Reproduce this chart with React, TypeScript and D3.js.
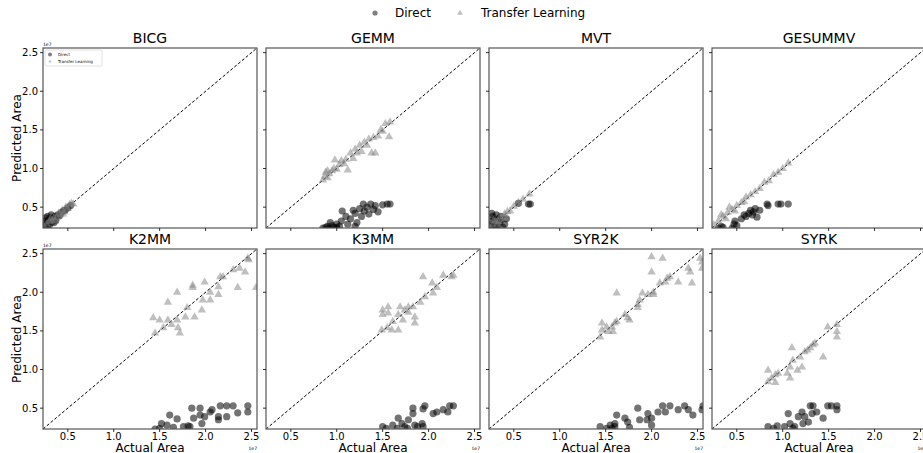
import React from "react";
import * as d3 from "d3";

type Pt = [number, number];

// values are in units of 1e7 (actual area, predicted area)
const bicgDirect: Pt[] = [
  [0.24, 0.26], [0.25, 0.32], [0.26, 0.36], [0.27, 0.29], [0.28, 0.38], [0.29, 0.33], [0.3, 0.27],
  [0.31, 0.36], [0.32, 0.4], [0.33, 0.31], [0.34, 0.35], [0.36, 0.38], [0.37, 0.33], [0.39, 0.4],
  [0.41, 0.39], [0.43, 0.43], [0.45, 0.45], [0.47, 0.46], [0.5, 0.49], [0.53, 0.52], [0.25, 0.24],
  [0.28, 0.25], [0.35, 0.3],
];
const bicgTransfer: Pt[] = [
  [0.24, 0.25], [0.27, 0.28], [0.3, 0.31], [0.33, 0.33], [0.35, 0.36], [0.38, 0.37], [0.4, 0.42],
  [0.42, 0.4], [0.44, 0.46], [0.46, 0.44], [0.48, 0.5], [0.5, 0.48], [0.52, 0.53], [0.54, 0.55],
  [0.56, 0.54], [0.36, 0.32], [0.31, 0.35], [0.45, 0.41],
];
const gemmDirect: Pt[] = [
  [0.85, 0.23], [0.88, 0.24], [0.9, 0.25], [0.92, 0.23], [0.95, 0.26], [0.97, 0.24], [1.0, 0.28],
  [0.93, 0.3], [1.03, 0.25], [1.06, 0.45], [1.05, 0.32], [1.1, 0.38], [1.12, 0.28], [1.15, 0.35],
  [1.18, 0.46], [1.2, 0.42], [1.22, 0.3], [1.25, 0.48], [1.27, 0.38], [1.29, 0.54], [1.3, 0.45],
  [1.33, 0.5], [1.35, 0.41], [1.37, 0.54], [1.4, 0.47], [1.42, 0.52], [1.45, 0.44], [1.5, 0.53],
  [1.55, 0.54], [1.58, 0.54], [1.2, 0.25], [1.0, 0.24],
];
const gemmTransfer: Pt[] = [
  [0.85, 0.85], [0.87, 0.9], [0.88, 0.95], [0.9, 0.88], [0.92, 0.93], [0.95, 0.97], [0.98, 1.11],
  [1.0, 0.99], [1.03, 1.05], [1.05, 1.1], [1.08, 1.06], [1.1, 1.12], [1.12, 0.98], [1.15, 1.2],
  [1.18, 1.13], [1.2, 1.25], [1.22, 1.2], [1.25, 1.3], [1.27, 1.22], [1.3, 1.34], [1.33, 1.3],
  [1.35, 1.38], [1.38, 1.2], [1.42, 1.2], [1.45, 1.42], [1.48, 1.5], [1.5, 1.48], [1.53, 1.58],
  [1.57, 1.41], [1.58, 1.6], [1.4, 1.4], [0.97, 1.0], [0.9, 0.97],
];
const mvtDirect: Pt[] = [
  [0.24, 0.25], [0.25, 0.32], [0.26, 0.28], [0.27, 0.38], [0.28, 0.24], [0.29, 0.34], [0.3, 0.3],
  [0.31, 0.4], [0.32, 0.26], [0.33, 0.35], [0.35, 0.31], [0.36, 0.38], [0.38, 0.24], [0.4, 0.28],
  [0.42, 0.35], [0.55, 0.55], [0.66, 0.54], [0.68, 0.54], [0.26, 0.42], [0.3, 0.24],
];
const mvtTransfer: Pt[] = [
  [0.24, 0.24], [0.27, 0.27], [0.3, 0.32], [0.33, 0.31], [0.35, 0.37], [0.38, 0.36], [0.4, 0.41],
  [0.43, 0.44], [0.46, 0.45], [0.5, 0.51], [0.55, 0.56], [0.6, 0.6], [0.67, 0.67], [0.28, 0.33],
  [0.32, 0.28],
];
const gesummvDirect: Pt[] = [
  [0.3, 0.23], [0.33, 0.25], [0.35, 0.24], [0.45, 0.23], [0.47, 0.28], [0.48, 0.32], [0.5, 0.26],
  [0.55, 0.35], [0.58, 0.4], [0.6, 0.38], [0.63, 0.42], [0.65, 0.46], [0.68, 0.44], [0.7, 0.48],
  [0.67, 0.4], [0.75, 0.46], [0.83, 0.54], [0.84, 0.52], [0.95, 0.54], [0.98, 0.54], [1.06, 0.54],
  [0.72, 0.37],
];
const gesummvTransfer: Pt[] = [
  [0.25, 0.27], [0.3, 0.32], [0.35, 0.38], [0.38, 0.35], [0.4, 0.43], [0.45, 0.47], [0.48, 0.45],
  [0.5, 0.52], [0.55, 0.56], [0.58, 0.57], [0.6, 0.63], [0.65, 0.66], [0.7, 0.7], [0.75, 0.74],
  [0.8, 0.82], [0.85, 0.84], [0.9, 0.92], [0.95, 0.95], [1.0, 1.0], [1.06, 1.07], [0.42, 0.5],
  [0.33, 0.4],
];
const k2mmDirect: Pt[] = [
  [1.45, 0.23], [1.5, 0.24], [1.58, 0.28], [1.61, 0.41], [1.69, 0.36], [1.76, 0.26], [1.85, 0.5],
  [1.87, 0.37], [1.94, 0.5], [1.94, 0.41], [1.96, 0.3], [1.99, 0.39], [2.05, 0.45], [2.07, 0.48],
  [2.14, 0.35], [2.16, 0.53], [2.23, 0.39], [2.23, 0.53], [2.3, 0.53], [2.35, 0.44], [2.46, 0.53],
  [2.46, 0.45], [1.52, 0.3], [1.65, 0.25], [1.81, 0.27], [2.14, 0.39], [1.83, 0.26],
];
const k2mmTransfer: Pt[] = [
  [2.46, 2.44], [2.43, 2.26], [2.35, 2.06], [2.55, 2.06], [2.3, 2.29], [2.16, 2.2], [1.99, 2.13],
  [1.86, 2.09], [1.69, 2.0], [1.59, 1.87], [1.86, 2.06], [2.05, 1.9], [2.14, 1.97], [1.8, 1.8],
  [1.88, 1.68], [1.78, 1.68], [1.43, 1.67], [1.5, 1.64], [1.59, 1.64], [1.69, 1.64], [1.72, 1.47],
  [1.45, 1.47], [1.54, 1.54], [1.63, 1.58], [1.7, 1.54], [1.97, 1.9], [2.19, 2.2], [2.47, 2.42],
  [2.37, 2.31], [2.14, 2.07], [2.05, 2.0], [1.96, 1.77],
];
const k3mmDirect: Pt[] = [
  [1.5, 0.26], [1.54, 0.24], [1.61, 0.28], [1.67, 0.37], [1.71, 0.3], [1.74, 0.26], [1.78, 0.35],
  [1.83, 0.5], [1.83, 0.43], [1.85, 0.28], [1.93, 0.3], [1.96, 0.53], [1.94, 0.49], [2.05, 0.43],
  [2.09, 0.45], [2.16, 0.48], [2.21, 0.45], [2.23, 0.53], [2.27, 0.53], [1.66, 0.24], [1.77, 0.24],
  [1.88, 0.26], [1.94, 0.26],
];
const k3mmTransfer: Pt[] = [
  [1.49, 1.51], [1.55, 1.54], [1.67, 1.51], [1.5, 1.77], [1.56, 1.81], [1.56, 1.73], [1.5, 1.71],
  [1.69, 1.81], [1.74, 1.77], [1.78, 1.81], [1.72, 1.64], [1.85, 1.68], [1.85, 1.6], [1.83, 1.81],
  [1.91, 1.87], [1.96, 1.94], [2.05, 1.99], [2.09, 2.06], [2.04, 2.12], [1.94, 2.2], [2.16, 2.22],
  [2.25, 2.2], [2.27, 2.22], [1.61, 1.62], [1.67, 1.71], [1.78, 1.74], [1.6, 1.51],
];
const syr2kDirect: Pt[] = [
  [1.44, 0.26], [1.51, 0.24], [1.55, 0.28], [1.6, 0.3], [1.62, 0.41], [1.6, 0.26], [1.71, 0.37],
  [1.74, 0.32], [1.85, 0.5], [1.87, 0.35], [1.95, 0.35], [1.96, 0.43], [2.0, 0.37], [2.0, 0.28],
  [2.07, 0.45], [2.12, 0.53], [2.15, 0.45], [2.2, 0.53], [2.29, 0.48], [2.36, 0.53], [2.4, 0.48],
  [2.45, 0.41], [2.55, 0.48], [2.56, 0.53], [1.57, 0.24], [1.76, 0.25],
];
const syr2kTransfer: Pt[] = [
  [1.44, 1.42], [1.46, 1.51], [1.46, 1.6], [1.51, 1.55], [1.53, 1.49], [1.57, 1.55], [1.58, 1.49],
  [1.6, 1.6], [1.62, 1.62], [1.62, 1.99], [1.71, 1.71], [1.74, 1.67], [1.76, 1.64], [1.85, 1.84],
  [1.87, 1.9], [1.9, 1.99], [1.85, 1.8], [1.96, 1.97], [2.02, 1.97], [2.02, 2.0], [2.0, 2.26],
  [2.0, 2.46], [2.12, 2.44], [2.09, 2.12], [2.15, 2.13], [2.17, 2.18], [2.2, 2.2], [2.29, 2.13],
  [2.4, 2.31], [2.42, 2.26], [2.44, 2.12], [2.53, 2.44], [2.55, 2.31], [2.55, 2.39],
];
const syrkDirect: Pt[] = [
  [0.84, 0.26], [0.9, 0.24], [0.94, 0.27], [1.08, 0.3], [1.06, 0.43], [1.13, 0.26], [1.17, 0.39],
  [1.21, 0.45], [1.22, 0.3], [1.24, 0.39], [1.3, 0.53], [1.32, 0.43], [1.33, 0.53], [1.37, 0.45],
  [1.44, 0.37], [1.49, 0.53], [1.53, 0.53], [1.59, 0.53], [1.59, 0.48], [1.28, 0.32], [1.11, 0.24],
  [1.02, 0.26],
];
const syrkTransfer: Pt[] = [
  [0.84, 0.84], [0.84, 0.99], [0.92, 0.83], [0.92, 0.93], [0.95, 0.95], [1.05, 0.95], [1.08, 0.89],
  [1.1, 1.28], [1.08, 1.03], [1.16, 0.99], [1.21, 1.03], [1.19, 1.16], [1.24, 1.23], [1.3, 1.28],
  [1.35, 1.34], [1.44, 1.16], [1.49, 1.55], [1.59, 1.58], [1.59, 1.42], [1.59, 1.49], [1.11, 1.12],
  [1.27, 1.25], [1.33, 1.32], [0.88, 0.89],
];

const panelNames = ["BICG", "GEMM", "MVT", "GESUMMV", "K2MM", "K3MM", "SYR2K", "SYRK"];
const directSets = [bicgDirect, gemmDirect, mvtDirect, gesummvDirect, k2mmDirect, k3mmDirect, syr2kDirect, syrkDirect];
const transferSets = [bicgTransfer, gemmTransfer, mvtTransfer, gesummvTransfer, k2mmTransfer, k3mmTransfer, syr2kTransfer, syrkTransfer];
const tickValues = [0.5, 1.0, 1.5, 2.0, 2.5];
const axisRange = [0.23, 2.56];

const W = 923, H = 453;
const panelW = 214, panelH = 180;
const lefts = [43, 266, 489, 712];
const tops = [48, 249];
const font = "DejaVu Sans, sans-serif";

const x = d3.scaleLinear().domain(axisRange).range([0, panelW]);
const y = d3.scaleLinear().domain(axisRange).range([panelH, 0]);
const fmt = d3.format(".1f");
const tri = d3.symbol().type(d3.symbolTriangle).size(30)();
const triSmall = d3.symbol().type(d3.symbolTriangle).size(14)();
const triTiny = d3.symbol().type(d3.symbolTriangle).size(5)();

const Panel = ({ i }: { i: number }) => {
  const col = i % 4, row = Math.floor(i / 4);
  const left = lefts[col], top = tops[row];
  const clipId = `clip-${i}`;
  return (
    <g transform={`translate(${left},${top})`}>
      <defs>
        <clipPath id={clipId}>
          <rect width={panelW} height={panelH} />
        </clipPath>
      </defs>
      <text x={panelW / 2} y={-5} textAnchor="middle" fontSize={14} fontFamily={font}>{panelNames[i]}</text>
      <g clipPath={`url(#${clipId})`}>
        <line x1={x(axisRange[0])} y1={y(axisRange[0])} x2={x(axisRange[1])} y2={y(axisRange[1])}
          stroke="black" strokeWidth={1} strokeDasharray="3,2" />
        {directSets[i].map((d, k) => (
          <circle key={"d" + k} cx={x(d[0])} cy={y(d[1])} r={3.6} fill="black" fillOpacity={0.55} />
        ))}
        {transferSets[i].map((d, k) => (
          <path key={"t" + k} d={tri} transform={`translate(${x(d[0])},${y(d[1])})`} fill="#808080" fillOpacity={0.5} />
        ))}
      </g>
      <rect width={panelW} height={panelH} fill="none" stroke="#555" strokeWidth={1.2} />
      {tickValues.map(t => (
        <g key={"x" + t} transform={`translate(${x(t)},${panelH})`}>
          <line y2={3} stroke="black" strokeWidth={0.8} />
          {row === 1 && <text y={7.2} dy="0.35em" textAnchor="middle" fontSize={10} fontFamily={font}>{fmt(t)}</text>}
        </g>
      ))}
      {tickValues.map(t => (
        <g key={"y" + t} transform={`translate(0,${y(t)})`}>
          <line x2={-3} stroke="black" strokeWidth={0.8} />
          {col === 0 && <text x={-5} dy="0.35em" textAnchor="end" fontSize={10} fontFamily={font}>{fmt(t)}</text>}
        </g>
      ))}
      {col === 0 && <text x={0} y={-2} fontSize={4.5} fontFamily={font}>1e7</text>}
      {row === 1 && <text x={panelW} y={panelH + 21} textAnchor="end" fontSize={4.5} fontFamily={font}>1e7</text>}
      {row === 1 && <text x={panelW / 2} y={panelH + 23} textAnchor="middle" fontSize={12} fontFamily={font}>Actual Area</text>}
      {col === 0 && (
        <text transform={`translate(-22,${panelH / 2}) rotate(-90)`} textAnchor="middle" fontSize={12} fontFamily={font}>Predicted Area</text>
      )}
      {i === 0 && (
        <g transform="translate(2,2)">
          <rect width={57} height={16} fill="white" stroke="#ccc" strokeWidth={0.6} rx={1} />
          <circle cx={5} cy={4.5} r={2} fill="black" fillOpacity={0.5} />
          <path d={triTiny} transform="translate(5,11.5)" fill="#808080" fillOpacity={0.5} />
          <text x={13} y={6} fontSize={4} fontFamily={font}>Direct</text>
          <text x={13} y={13} fontSize={4} fontFamily={font}>Transfer Learning</text>
        </g>
      )}
    </g>
  );
};

const App = () => (
  <svg width={W} height={H} style={{ position: "absolute", left: 0, top: 0, background: "white" }}>
    <g>
      <circle cx={375} cy={13} r={2.6} fill="black" fillOpacity={0.5} />
      <text x={395} y={17} fontSize={12} fontFamily={font}>Direct</text>
      <path d={triSmall} transform="translate(460,13)" fill="#808080" fillOpacity={0.5} />
      <text x={481} y={17} fontSize={12} fontFamily={font}>Transfer Learning</text>
    </g>
    {panelNames.map((_, i) => <Panel key={i} i={i} />)}
  </svg>
);

export default App;
